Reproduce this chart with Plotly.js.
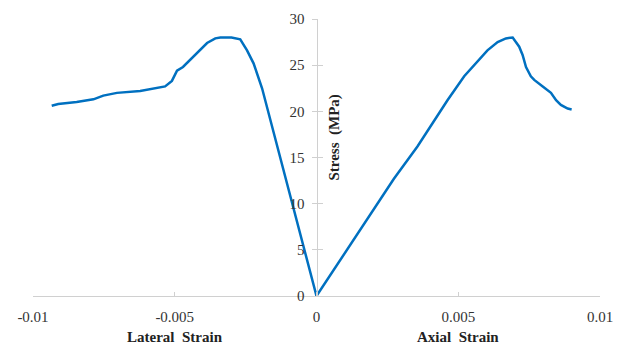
<!DOCTYPE html>
<html>
<head>
<meta charset="utf-8">
<script src="https://cdn.plot.ly/plotly-3.0.1.min.js"></script>
<style>html,body{margin:0;padding:0;background:#fff}#chart{width:625px;height:345px}</style>
</head>
<body>
<div id="chart"></div>
<script>
// Lateral strain (negative) vs stress
const lateralStrain = [-0.00934, -0.00911, -0.00846, -0.00787, -0.00752, -0.00704, -0.00622, -0.00551, -0.00534, -0.00510, -0.00492, -0.00471, -0.00445, -0.00410, -0.00386, -0.00357, -0.00339, -0.00300, -0.00269, -0.00245, -0.00222, -0.00192, -0.00163, -0.00127, -0.00092, -0.00051, -0.00021, 0];
const lateralStress = [20.6, 20.8, 21.0, 21.3, 21.7, 22.0, 22.2, 22.6, 22.7, 23.3, 24.4, 24.8, 25.6, 26.6, 27.4, 27.9, 28.0, 28.0, 27.8, 26.6, 25.2, 22.5, 19.1, 14.9, 10.6, 5.9, 2.3, 0];
// Axial strain vs stress
const axialStrain = [0, 0.00273, 0.00356, 0.00462, 0.00521, 0.00580, 0.00603, 0.00639, 0.00668, 0.00692, 0.00715, 0.00727, 0.00739, 0.00756, 0.00768, 0.00798, 0.00827, 0.00845, 0.00862, 0.00886, 0.00900];
const axialStress = [0, 12.7, 16.2, 21.2, 23.8, 25.9, 26.6, 27.5, 27.9, 28.0, 27.0, 26.1, 24.8, 23.8, 23.4, 22.7, 22.0, 21.2, 20.7, 20.3, 20.2];
const xTickVals = [-0.01, -0.005, 0, 0.005, 0.01];
const xTickText = ['-0.01', '-0.005', '0', '0.005', '0.01'];
const yTickVals = [0, 5, 10, 15, 20, 25, 30];
const axisTitles = ['Lateral  Strain', 'Axial  Strain'];
const yTitle = 'Stress  (MPa)';

const lineColor = '#0070C0';
const fam = 'Liberation Serif, Times New Roman, serif';
const font = {family: fam, size: 15, color: '#333'};
const titleFont = {family: fam, size: 15, color: '#222'};

const traces = [
  {x: lateralStrain, y: lateralStress, mode: 'lines', line: {color: lineColor, width: 2.5}, hoverinfo: 'skip'},
  {x: axialStrain, y: axialStress, mode: 'lines', line: {color: lineColor, width: 2.5}, hoverinfo: 'skip'},
  {x: [0], y: [0], yaxis: 'y2', mode: 'markers', marker: {opacity: 0}, hoverinfo: 'skip'}
];

const plotH = 345 - 19 - 49;
const layout = {
  width: 625, height: 345,
  margin: {l: 33, r: 25, t: 19, b: 49},
  showlegend: false,
  paper_bgcolor: '#fff', plot_bgcolor: '#fff',
  font: font,
  xaxis: {
    range: [-0.01, 0.01], tickvals: xTickVals, ticktext: xTickText,
    showgrid: false, zeroline: false, showline: true, linecolor: '#d0d0d0', linewidth: 1,
    ticks: 'inside', ticklen: 4, tickcolor: '#d0d0d0', ticklabelstandoff: 7,
    tickfont: font
  },
  yaxis: {
    range: [0, 30], tickvals: yTickVals, anchor: 'free', position: 0.5,
    showgrid: false, zeroline: false, showline: true, linecolor: '#d0d0d0', linewidth: 1,
    ticks: 'outside', ticklen: 5, tickcolor: '#d0d0d0', ticklabelstandoff: 4,
    tickfont: font
  },
  yaxis2: {
    range: [0, 30], tickvals: yTickVals, overlaying: 'y', anchor: 'free', position: 0.5,
    showgrid: false, zeroline: false, showline: false, showticklabels: false,
    ticks: 'inside', ticklen: 5, tickcolor: '#d0d0d0'
  },
  annotations: [
    {text: '<b>' + axisTitles[0] + '</b>', x: -0.005, xref: 'x', y: (296 - 337) / plotH, yref: 'paper', showarrow: false, font: titleFont, yanchor: 'middle'},
    {text: '<b>' + axisTitles[1] + '</b>', x: 0.005, xref: 'x', y: (296 - 337) / plotH, yref: 'paper', showarrow: false, font: titleFont, yanchor: 'middle'},
    {text: '<b>' + yTitle + '</b>', x: 0.0006, xref: 'x', y: (296 - 138) / plotH, yref: 'paper', textangle: -90, showarrow: false, font: titleFont}
  ]
};

Plotly.newPlot('chart', traces, layout, {displayModeBar: false, staticPlot: true});
</script>
</body>
</html>
